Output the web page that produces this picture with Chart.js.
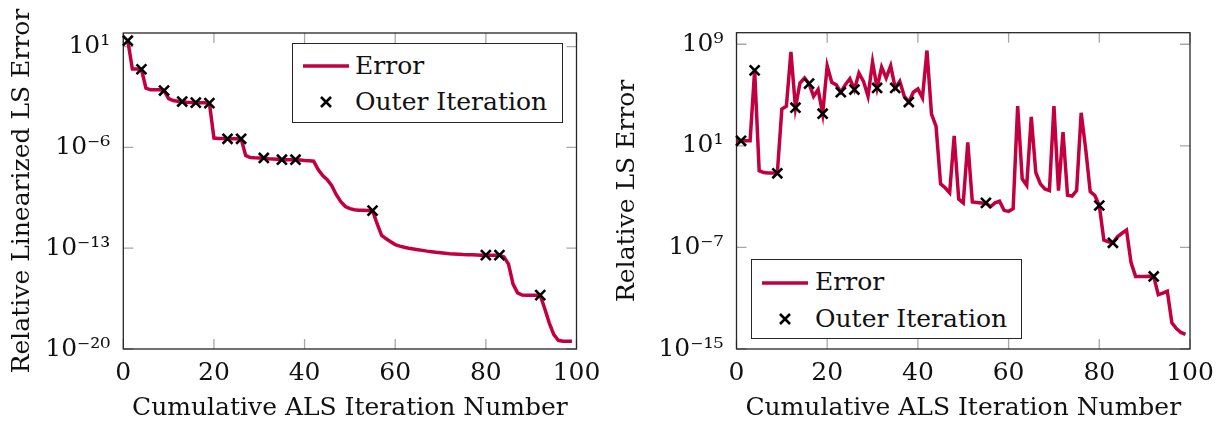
<!DOCTYPE html>
<html>
<head>
<meta charset="utf-8">
<script src="https://cdn.jsdelivr.net/npm/chart.js@4/dist/chart.umd.min.js"></script>
<style>
  body { margin: 0; background: #fff; width: 1220px; height: 425px; overflow: hidden; position: relative; font-family: "DejaVu Serif", serif; }
  .pane { position: absolute; top: 0; width: 610px; height: 425px; }
  .legend { position: absolute; box-sizing: border-box; width: 271px; height: 80px; border: 1.3px solid #262626; background: #fff; }
  .legend svg { position: absolute; }
  .legend span { position: absolute; font-size: 25px; line-height: 30px; color: #111; white-space: nowrap; }
</style>
</head>
<body>
<div class="pane" style="left:0"><canvas id="linChart" width="610" height="425"></canvas></div>
<div class="pane" style="left:610px"><canvas id="lsChart" width="610" height="425"></canvas></div>

<div class="legend" style="left:292px;top:43px">
  <svg style="left:10px;top:12px" width="46" height="20"><line x1="0" y1="10" x2="46" y2="10" stroke="#c20040" stroke-width="3.5"/></svg>
  <span style="left:62px;top:7px">Error</span>
  <svg style="left:23px;top:48px" width="20" height="20"><path d="M5 5L15 15M15 5L5 15" stroke="#000" stroke-width="2.6"/></svg>
  <span style="left:62px;top:43px">Outer Iteration</span>
</div>
<div class="legend" style="left:751px;top:259px">
  <svg style="left:10px;top:13px" width="46" height="20"><line x1="0" y1="10" x2="46" y2="10" stroke="#c20040" stroke-width="3.5"/></svg>
  <span style="left:63px;top:7px">Error</span>
  <svg style="left:23px;top:49px" width="20" height="20"><path d="M5 5L15 15M15 5L5 15" stroke="#000" stroke-width="2.6"/></svg>
  <span style="left:63px;top:44px">Outer Iteration</span>
</div>

<script>
// outer iteration positions (same for both runs)
const outerIters = [1, 4, 9, 13, 16, 19, 23, 26, 31, 35, 38, 55, 80, 83, 92];

// relative linearized LS error, iterations 1..99
const linErr = [
  2.6e1, 2.8e-1, 2.8e-1, 2.7e-1, 1.3e-2, 1.0e-2, 1.0e-2, 1.0e-2, 8.9e-3, 2.5e-3,
  1.8e-3, 1.6e-3, 1.55e-3, 1.4e-3, 1.3e-3, 1.3e-3, 1.26e-3, 1.26e-3, 1.2e-3, 4.5e-6,
  4.2e-6, 4.2e-6, 4.0e-6, 4.0e-6, 4.0e-6, 4.0e-6, 2.8e-7, 2.0e-7, 1.9e-7, 1.86e-7,
  1.86e-7, 1.66e-7, 1.6e-7, 1.5e-7, 1.4e-7, 1.4e-7, 1.4e-7, 1.4e-7, 1.35e-7, 1.26e-7,
  1.2e-7, 1.1e-7, 2.9e-8, 1.1e-8, 5.8e-9, 2.2e-9, 5.2e-10, 1.7e-10, 7.9e-11, 5.6e-11,
  4.7e-11, 4.4e-11, 4.3e-11, 4.2e-11, 4.1e-11, 5.0e-12, 7.9e-13, 4.5e-13, 2.8e-13, 1.8e-13,
  1.4e-13, 1.17e-13, 1.0e-13, 8.9e-14, 7.9e-14, 7.1e-14, 6.3e-14, 5.75e-14, 5.2e-14, 4.8e-14,
  4.5e-14, 4.2e-14, 4.0e-14, 3.8e-14, 3.6e-14, 3.5e-14, 3.47e-14, 3.4e-14, 3.3e-14, 3.3e-14,
  3.3e-14, 3.3e-14, 3.3e-14, 2.5e-14, 7.9e-15, 3.2e-16, 7.9e-17, 5.6e-17, 5.5e-17, 5.5e-17,
  5.5e-17, 5.5e-17, 6.3e-18, 6.3e-19, 1.0e-19, 4.0e-20, 3.5e-20, 3.5e-20, 3.5e-20
];
const linErrOuter = [2.6e1, 2.7e-1, 8.9e-3, 1.55e-3, 1.3e-3, 1.2e-3, 4.0e-6, 4.0e-6, 1.86e-7, 1.4e-7, 1.4e-7, 4.1e-11, 3.3e-14, 3.3e-14, 5.5e-17];

// relative LS error, iterations 0..99
const lsErr = [
  2.5e1, 2.5e1, 2.5e1, 2.5e1, 8.7e6, 1.1e-1, 7.9e-2, 7.1e-2, 7.1e-2, 6.9e-2,
  7.9e3, 1.3e4, 2.5e8, 1.0e4, 8.9e5, 2.2e6, 7.9e5, 7.9e4, 2.7e5, 3.4e3,
  2.0e7, 1.0e6, 6.3e5, 1.66e5, 6.6e5, 1.9e6, 2.7e5, 5.4e6, 1.2e6, 7.9e4,
  4.0e7, 3.6e5, 1.6e7, 2.2e6, 2.0e7, 3.6e5, 1.2e6, 7.9e4, 2.8e4, 1.66e5,
  3.0e5, 6.0e4, 3.2e8, 3.2e3, 3.6e2, 1.0e-2, 5.0e-3, 2.0e-3, 6.0e1, 6.3e-4,
  3.2e-4, 1.9e1, 3.8e-4, 3.5e-4, 3.2e-4, 3.2e-4, 1.6e-4, 3.2e-4, 4.3e-4, 8.3e-5,
  6.9e-5, 1.1e-4, 1.35e4, 2.5e-2, 7.6e-3, 1.9e3, 7.9e-2, 1.0e-2, 4.0e-3, 3.0e-3,
  1.35e4, 3.0e-3, 1.2e2, 1.26e-3, 1.1e-3, 3.0e-3, 4.0e3, 5.5e0, 2.5e-3, 1.26e-3,
  2.0e-4, 3.8e-7, 2.8e-7, 2.3e-7, 6.9e-7, 1.3e-6, 2.3e-6, 6.3e-9, 5.2e-10, 5.2e-10,
  5.2e-10, 5.4e-10, 5.2e-10, 1.9e-11, 2.5e-11, 3.5e-11, 1.17e-13, 4.0e-14, 2.0e-14, 1.4e-14
];
const lsErrOuter = [2.5e1, 8.7e6, 6.9e-2, 1.0e4, 7.9e5, 3.4e3, 1.66e5, 2.7e5, 3.6e5, 3.6e5, 2.8e4, 3.2e-4, 2.0e-4, 2.3e-7, 5.2e-10];

const xTicks = [0, 20, 40, 60, 80, 100];
const linTicks = [1e1, 1e-6, 1e-13, 1e-20];
const lsTicks = [1e9, 1e1, 1e-7, 1e-15];

const ERR_COLOR = '#c20040';
const SUP = { '-': '⁻', '0': '⁰', '1': '¹', '2': '²', '3': '³', '4': '⁴', '5': '⁵', '6': '⁶', '7': '⁷', '8': '⁸', '9': '⁹' };

Chart.defaults.font.family = '"DejaVu Serif", serif';
Chart.defaults.font.size = 25;
Chart.defaults.color = '#111';

function powLabel(v) {
  const e = String(Math.round(Math.log10(v)));
  return '10' + e.split('').map(c => SUP[c]).join('');
}

// pgfplots-like box with inward ticks, drawn under the data
const framePlugin = {
  id: 'frame',
  beforeDatasetsDraw(chart) {
    const { ctx, chartArea: a, scales } = chart;
    ctx.save();
    ctx.strokeStyle = '#a8a8a8';
    ctx.lineWidth = 1.3;
    ctx.beginPath();
    scales.x.ticks.forEach(t => {
      const px = scales.x.getPixelForValue(t.value);
      ctx.moveTo(px, a.bottom); ctx.lineTo(px, a.bottom - 10);
      ctx.moveTo(px, a.top); ctx.lineTo(px, a.top + 10);
    });
    scales.y.ticks.forEach(t => {
      const py = scales.y.getPixelForValue(t.value);
      ctx.moveTo(a.left, py); ctx.lineTo(a.left + 10, py);
      ctx.moveTo(a.right, py); ctx.lineTo(a.right - 10, py);
    });
    ctx.stroke();
    ctx.strokeStyle = '#262626';
    ctx.lineWidth = 1.3;
    ctx.strokeRect(a.left, a.top, a.right - a.left, a.bottom - a.top);
    ctx.restore();
  }
};

function makeChart(id, opts) {
  const line = opts.values.map((v, i) => ({ x: i + opts.firstIter, y: v }));
  const marks = outerIters.map((it, i) => ({ x: it, y: opts.outer[i] }));

  return new Chart(document.getElementById(id), {
    type: 'line',
    data: {
      datasets: [
        {
          label: 'Outer Iteration',
          data: marks,
          showLine: false,
          pointStyle: 'crossRot',
          pointRadius: 7,
          pointBorderWidth: 2.6,
          pointBorderColor: '#000',
          clip: false
        },
        {
          label: 'Error',
          data: line,
          borderColor: ERR_COLOR,
          borderWidth: 3.5,
          pointRadius: 0,
          tension: 0,
          clip: false
        }
      ]
    },
    options: {
      animation: false,
      responsive: false,
      events: [],
      layout: { padding: opts.padding },
      plugins: { legend: { display: false }, tooltip: { enabled: false } },
      scales: {
        x: {
          type: 'linear',
          min: 0, max: 100,
          bounds: 'data',
          afterBuildTicks: s => { s.ticks = xTicks.map(v => ({ value: v })); },
          afterFit: s => { s.height = opts.xHeight; s.paddingLeft = 0; s.paddingRight = 0; },
          grid: { display: false, drawTicks: false },
          border: { display: false },
          ticks: { padding: 9, maxRotation: 0, autoSkip: false, color: '#111' },
          title: { display: true, text: 'Cumulative ALS Iteration Number', color: '#111', padding: { top: 0, bottom: 2 } }
        },
        y: {
          type: 'logarithmic',
          min: opts.yMin, max: opts.yMax,
          bounds: 'data',
          afterBuildTicks: s => { s.ticks = opts.yTicks.map(v => ({ value: v })); },
          afterFit: s => { s.width = opts.yWidth; s.paddingTop = 0; s.paddingBottom = 0; },
          grid: { display: false, drawTicks: false },
          border: { display: false },
          ticks: { padding: 13, autoSkip: false, color: '#111', callback: v => powLabel(v) },
          title: { display: true, text: opts.yTitle, color: '#111', padding: { top: opts.yTitlePad, bottom: 0 } }
        }
      }
    },
    plugins: [framePlugin]
  });
}

makeChart('linChart', {
  values: linErr, firstIter: 1, outer: linErrOuter,
  yMin: 1e-20, yMax: 89, yTicks: linTicks,
  yTitle: 'Relative Linearized LS Error', yTitlePad: 7.5,
  padding: { left: 0, right: 33.5, top: 33, bottom: 0 },
  yWidth: 123.3, xHeight: 76
});

makeChart('lsChart', {
  values: lsErr, firstIter: 0, outer: lsErrOuter,
  yMin: 1e-15, yMax: 8.1e9, yTicks: lsTicks,
  yTitle: 'Relative LS Error', yTitlePad: 2.5,
  padding: { left: 0, right: 30, top: 32.7, bottom: 0 },
  yWidth: 126.5, xHeight: 76
});
</script>
</body>
</html>
